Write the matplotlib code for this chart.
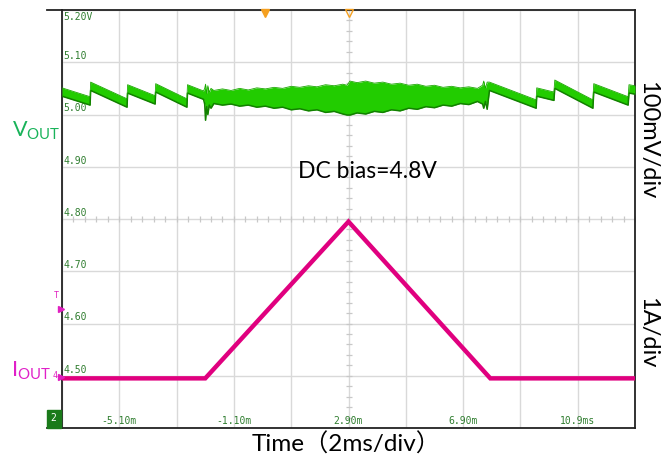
import matplotlib
matplotlib.use("Agg")
import matplotlib.pyplot as plt
import numpy as np

# ---------------- data ----------------
x_ticks = [-5.10, -1.10, 2.90, 6.90, 10.90]
x_tick_labels = ["-5.10m", "-1.10m", "2.90m", "6.90m", "10.9ms"]
y_ticks = [5.20, 5.10, 5.00, 4.90, 4.80, 4.70, 4.60, 4.50]
y_tick_labels = ["5.20V", "5.10", "5.00", "4.90", "4.80", "4.70", "4.60", "4.50"]

# output voltage envelope (ms, V) : left sawtooth, load-step glitch, ramp band,
# release glitch, right sawtooth
vout_t = [-7.10, -6.12, -6.10, -4.83, -4.81, -3.85, -3.83, -2.74, -2.72, -2.16,
          -2.12, -2.09, -2.05, -2.01, -1.96, -1.90,
          -1.80, -1.50, -1.20, -0.90, -0.60, -0.30, 0.00, 0.30, 0.60, 0.90,
          1.20, 1.50, 1.80, 2.10, 2.40, 2.70, 2.85, 2.95, 3.20, 3.50, 3.80,
          4.10, 4.40, 4.70, 5.00, 5.30, 5.60, 5.90, 6.20, 6.50, 6.80, 7.10, 7.40,
          7.58, 7.62, 7.68, 7.74, 7.82, 9.45, 9.47,
          10.07, 10.10, 11.43, 11.46, 12.66, 12.69, 12.90]
vout_hi = [5.051, 5.034, 5.062, 5.030, 5.057, 5.036, 5.059, 5.030, 5.057, 5.045,
           5.050, 5.058, 5.040, 5.055, 5.042, 5.050,
           5.046, 5.049, 5.046, 5.050, 5.047, 5.051, 5.049, 5.052, 5.050, 5.054,
           5.052, 5.055, 5.053, 5.057, 5.055, 5.058, 5.056, 5.064, 5.061, 5.064, 5.060,
           5.062, 5.058, 5.060, 5.056, 5.058, 5.054, 5.056, 5.052, 5.054, 5.051, 5.053, 5.050,
           5.056, 5.064, 5.050, 5.062, 5.062, 5.028, 5.051,
           5.043, 5.066, 5.028, 5.059, 5.034, 5.057, 5.055]
vout_lo = [5.035, 5.018, 5.046, 5.014, 5.041, 5.020, 5.043, 5.014, 5.041, 5.029,
           5.020, 4.989, 5.015, 5.000, 5.018, 5.012,
           5.021, 5.018, 5.020, 5.016, 5.018, 5.014, 5.016, 5.012, 5.014, 5.009,
           5.011, 5.007, 5.009, 5.004, 5.006, 5.001, 4.999, 4.999, 5.003, 5.001, 5.006,
           5.004, 5.009, 5.007, 5.012, 5.010, 5.015, 5.013, 5.018, 5.016, 5.021, 5.019, 5.025,
           5.020, 5.012, 5.025, 5.010, 5.046, 5.012, 5.035,
           5.027, 5.050, 5.012, 5.043, 5.018, 5.041, 5.039]

# output current (ms, A); displayed at 1 A/div with 0 A on the 4.50 line
iout_t = [-7.10, -2.10, 2.90, 7.85, 12.90]
iout_a = [0.0, 0.0, 3.0, 0.0, 0.0]
i_zero_level = 4.495
i_scale = 0.1  # grid units per A

xlim = (-7.10, 12.90)
ylim = (4.40, 5.20)

# ---------------- figure ----------------
W, H = 661, 457
fig = plt.figure(figsize=(W / 100, H / 100), dpi=100)
fig.patch.set_facecolor("white")
L, R, T, B = 62, 635, 10, 428
ax = fig.add_axes([L / W, 1 - B / H, (R - L) / W, (B - T) / H])
ax.set_xlim(*xlim)
ax.set_ylim(*ylim)

# grid
for gx in np.arange(xlim[0], xlim[1] + 1e-6, 2.0):
    ax.axvline(gx, color="#d9d9d9", lw=1.0, zorder=0)
for gy in np.arange(ylim[0], ylim[1] + 1e-6, 0.1):
    ax.axhline(gy, color="#d9d9d9", lw=1.0, zorder=0)

# minor ticks on center cross
cx, cy = 2.90, 4.80
mx = np.arange(xlim[0], xlim[1] + 1e-6, 0.4)
ax.plot(mx, np.full_like(mx, cy), ls="none", marker="|", ms=4, mew=0.9,
        color="#c8c8c8", zorder=0)
my = np.arange(ylim[0], ylim[1] + 1e-6, 0.02)
ax.plot(np.full_like(my, cx), my, ls="none", marker="_", ms=4, mew=0.9,
        color="#c8c8c8", zorder=0)

ax.set_xticks([])
ax.set_yticks([])
for s in ax.spines.values():
    s.set_color("#222222")
    s.set_linewidth(1.3)

# tick labels inside plot
mono = "DejaVu Sans Mono"
for v, lab in zip(y_ticks, y_tick_labels):
    if v >= ylim[1]:
        ax.text(xlim[0] + 0.06, v - 0.004, lab, fontsize=7, family=mono,
                color="#2f7d2f", ha="left", va="top", zorder=1)
    else:
        ax.text(xlim[0] + 0.06, v + 0.002, lab, fontsize=7, family=mono,
                color="#2f7d2f", ha="left", va="bottom", zorder=1)
for v, lab in zip(x_ticks, x_tick_labels):
    ax.text(v, ylim[0] + 0.004, lab, fontsize=7, family=mono,
            color="#2f7d2f", ha="center", va="bottom", zorder=1)

# green output voltage trace
ax.fill_between(vout_t, vout_lo, vout_hi, color="#22cc00", lw=0, zorder=3)
ax.plot(vout_t, vout_lo, color="#128000", lw=1.1, zorder=3)
ax.plot(vout_t, vout_hi, color="#1aa800", lw=0.6, zorder=3)

# magenta current trace
iout_y = [i_zero_level + a * i_scale for a in iout_a]
ax.plot(iout_t, iout_y, color="#e0007f", lw=3.2, solid_joinstyle="miter",
        zorder=4)

# scope decorations
ax.plot([0.0], [ylim[1] - 0.006], marker="v", ms=6, color="#f5a020",
        clip_on=False, zorder=5)
ax.plot([cx], [ylim[1] - 0.006], marker="v", ms=6, mfc="none", mec="#f5a020",
        mew=1.0, clip_on=False, zorder=5)
ax.plot([xlim[0] - 0.05], [4.627], marker=">", ms=5, color="#e020c0",
        clip_on=False, zorder=5)
ax.text(xlim[0] - 0.12, 4.645, "T", fontsize=6, color="#e020c0",
        ha="right", va="bottom", family=mono)
ax.plot([xlim[0] - 0.05], [4.497], marker=">", ms=5, color="#e020c0",
        clip_on=False, zorder=5)
ax.text(xlim[0] - 0.15, 4.50, "4", fontsize=6, color="#e020c0",
        ha="right", va="center", family=mono)

# green channel box
fig.patches.append(plt.Rectangle((47 / W, 1 - 428 / H), 14 / W, 18 / H,
                                 transform=fig.transFigure, color="#1a7a1a",
                                 zorder=6))
fig.text(53 / W, 1 - 418 / H, "2", fontsize=7, color="white", ha="center",
         va="center", family=mono, zorder=8)

# extend top and bottom frame lines to the left
for yy in (T, B):
    fig.add_artist(plt.Line2D([47 / W, L / W], [1 - yy / H, 1 - yy / H],
                              color="#222222", lw=1.3,
                              transform=fig.transFigure))

# labels
fam = ["Lato", "Noto Sans CJK SC", "DejaVu Sans"]
fig.text(12 / W, 1 - 131 / H, r"$\mathregular{V_{OUT}}$", fontsize=15.5,
         color="#19b35a", ha="left", va="center", family=fam)
fig.text(11 / W, 1 - 371 / H, r"$\mathregular{I_{OUT}}$", fontsize=15.5,
         color="#e020c8", ha="left", va="center", family=fam)
fig.text(367 / W, 1 - 172 / H, "DC bias=4.8V", fontsize=16.5, color="black",
         ha="center", va="center", family=fam)
fig.text(648 / W, 1 - 140 / H, "100mV/div", fontsize=17, color="black",
         ha="center", va="center", rotation=-90, family=fam)
fig.text(648 / W, 1 - 333 / H, "1A/div", fontsize=17, color="black",
         ha="center", va="center", rotation=-90, family=fam)
fig.text(346 / W, 1 - 444 / H, "Time（2ms/div）", fontsize=17.5, color="black",
         ha="center", va="center", family=fam)

fig.savefig("out.png", dpi=100, facecolor="white")
